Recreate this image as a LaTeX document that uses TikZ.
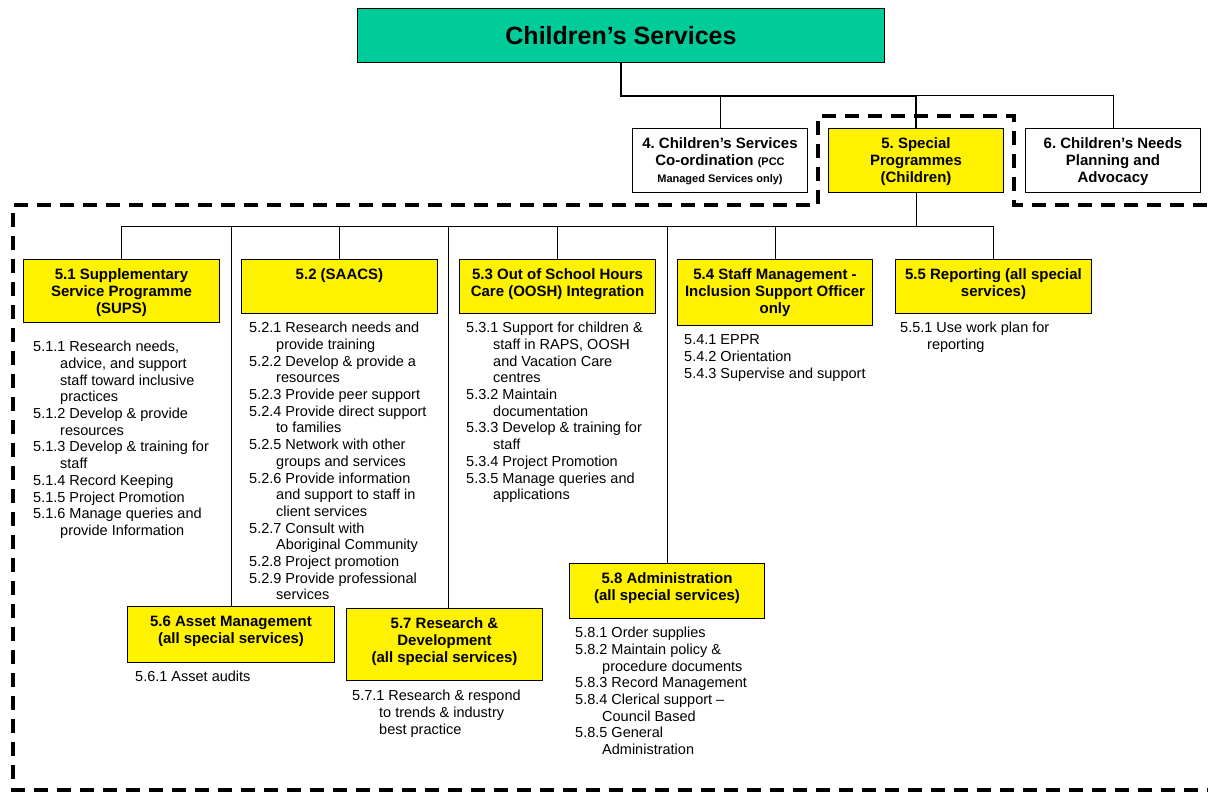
\documentclass[tikz,border=0pt]{standalone}
\usepackage{fontspec}
\setmainfont{Liberation Sans}
\usepackage{tikz}

\definecolor{csgreen}{RGB}{0,204,153}

\tikzset{
  headbox/.style={draw=black, line width=1pt, fill=csgreen, minimum width=527pt,
    minimum height=54pt, inner sep=0pt, font=\fontsize{25}{28}\selectfont\bfseries},
  unitbox/.style={draw=black, line width=1pt, inner xsep=0pt, inner ysep=4pt,
    text width=#1, align=flush center, text height=15.5pt,
    font=\fontsize{15}{17.2}\selectfont\bfseries\frenchspacing},
  special/.style={unitbox=#1, fill=yellow},
  tasklist/.style={inner sep=0pt, text width=250pt, align=flush left, anchor=base west,
    font=\fontsize{14.5}{16.7}\selectfont\frenchspacing},
  orgline/.style={line width=1pt},
  mainline/.style={line width=2.6pt},
  boundary/.style={line width=3.6pt, dash pattern=on 14pt off 9pt},
}
\newcommand{\task}[1]{\hangindent=27pt\hangafter=1\noindent #1\par}

\begin{document}
\begin{tikzpicture}[x=1pt, y=-1pt]
\useasboundingbox (0,0) rectangle (1208,792);

% dashed outline round the special programmes
\draw[boundary] (1230,205) -- (1014,205) -- (1014,116) -- (818,116) -- (818,205)
  -- (13,205) -- (13,790) -- (1230,790);

% top level
\node[headbox, anchor=north west] (cs) at (357,8) {Children’s Services};
\node[unitbox=175pt, fill=white, text depth=40.5pt, anchor=north west] (b4) at (632,128)
  {4. Children’s Services\\Co-ordination {\fontsize{11}{13}\selectfont (PCC}\\{\fontsize{11}{13}\selectfont Managed Services only)}};
\node[special=175pt, text depth=40.5pt, anchor=north west] (b5) at (828,128)
  {5. Special\\Programmes\\(Children)};
\node[unitbox=175pt, fill=white, text depth=40.5pt, anchor=north west] (b6) at (1025,128)
  {6. Children’s Needs\\Planning and\\Advocacy};

\coordinate (topbus) at (0,96);
\coordinate (subbus) at (0,226);

\draw[orgline] (b4.north) -- (b4.north |- topbus) -| (b6.north);
\draw[mainline] (cs.south) -- (cs.south |- topbus) -| (b5.north);

% special programmes
\node[special=196pt, text depth=39.5pt, anchor=north west] (b51) at (23,259)
  {5.1 Supplementary\\Service Programme\\(SUPS)};
\node[special=196pt, text depth=30.5pt, anchor=north west] (b52) at (241,259)
  {5.2 (SAACS)};
\node[special=196pt, text depth=30.5pt, anchor=north west] (b53) at (459,259)
  {5.3 Out of School Hours\\Care (OOSH) Integration};
\node[special=195pt, text depth=42.5pt, anchor=north west] (b54) at (677,259)
  {5.4 Staff Management -\\Inclusion Support Officer\\only};
\node[special=196pt, text depth=30.5pt, anchor=north west] (b55) at (895,259)
  {5.5 Reporting (all special\\services)};
\node[special=207pt, text depth=32.5pt, anchor=north west] (b56) at (127,606)
  {5.6 Asset Management\\(all special services)};
\node[special=196pt, text depth=48.5pt, anchor=north west] (b57) at (346,608)
  {5.7 Research \&\\Development\\(all special services)};
\node[special=195pt, text depth=31.5pt, anchor=north west] (b58) at (569,563)
  {5.8 Administration\\(all special services)};

\draw[orgline] (b5.south) -- (b5.south |- subbus);
\draw[orgline] (b51.north) -- (b51.north |- subbus) -| (b55.north);
\foreach \unit in {b52,b53,b54,b56,b58}
  \draw[orgline] (\unit.north) -- (\unit.north |- subbus);
\draw[orgline] ([xshift=4pt]b57.north) -- ([xshift=4pt]b57.north |- subbus);

% task lists
\node[tasklist] (l51) at (33,351.7) {%
  \task{5.1.1 Research needs,\newline advice, and support\newline staff toward inclusive\newline practices}%
  \task{5.1.2 Develop \& provide\newline resources}%
  \task{5.1.3 Develop \& training for\newline staff}%
  \task{5.1.4 Record Keeping}%
  \task{5.1.5 Project Promotion}%
  \task{5.1.6 Manage queries and\newline provide Information}};
\node[tasklist] (l52) at (249,332.7) {%
  \task{5.2.1 Research needs and\newline provide training}%
  \task{5.2.2 Develop \& provide a\newline resources}%
  \task{5.2.3 Provide peer support}%
  \task{5.2.4 Provide direct support\newline to families}%
  \task{5.2.5 Network with other\newline groups and services}%
  \task{5.2.6 Provide information\newline and support to staff in\newline client services}%
  \task{5.2.7 Consult with\newline Aboriginal Community}%
  \task{5.2.8 Project promotion}%
  \task{5.2.9 Provide professional\newline services}};
\node[tasklist] (l53) at (466,332.7) {%
  \task{5.3.1 Support for children \&\newline staff in RAPS, OOSH\newline and Vacation Care\newline centres}%
  \task{5.3.2 Maintain\newline documentation}%
  \task{5.3.3 Develop \& training for\newline staff}%
  \task{5.3.4 Project Promotion}%
  \task{5.3.5 Manage queries and\newline applications}};
\node[tasklist] (l54) at (684,344.7) {%
  \task{5.4.1 EPPR}%
  \task{5.4.2 Orientation}%
  \task{5.4.3 Supervise and support}};
\node[tasklist] (l55) at (900,332.7) {%
  \task{5.5.1 Use work plan for\newline reporting}};
\node[tasklist] (l56) at (135,681.7) {%
  \task{5.6.1 Asset audits}};
\node[tasklist] (l57) at (352,700.7) {%
  \task{5.7.1 Research \& respond\newline to trends \& industry\newline best practice}};
\node[tasklist] (l58) at (575,637.7) {%
  \task{5.8.1 Order supplies}%
  \task{5.8.2 Maintain policy \&\newline procedure documents}%
  \task{5.8.3 Record Management}%
  \task{5.8.4 Clerical support –\newline Council Based}%
  \task{5.8.5 General\newline Administration}};
\end{tikzpicture}
\end{document}
